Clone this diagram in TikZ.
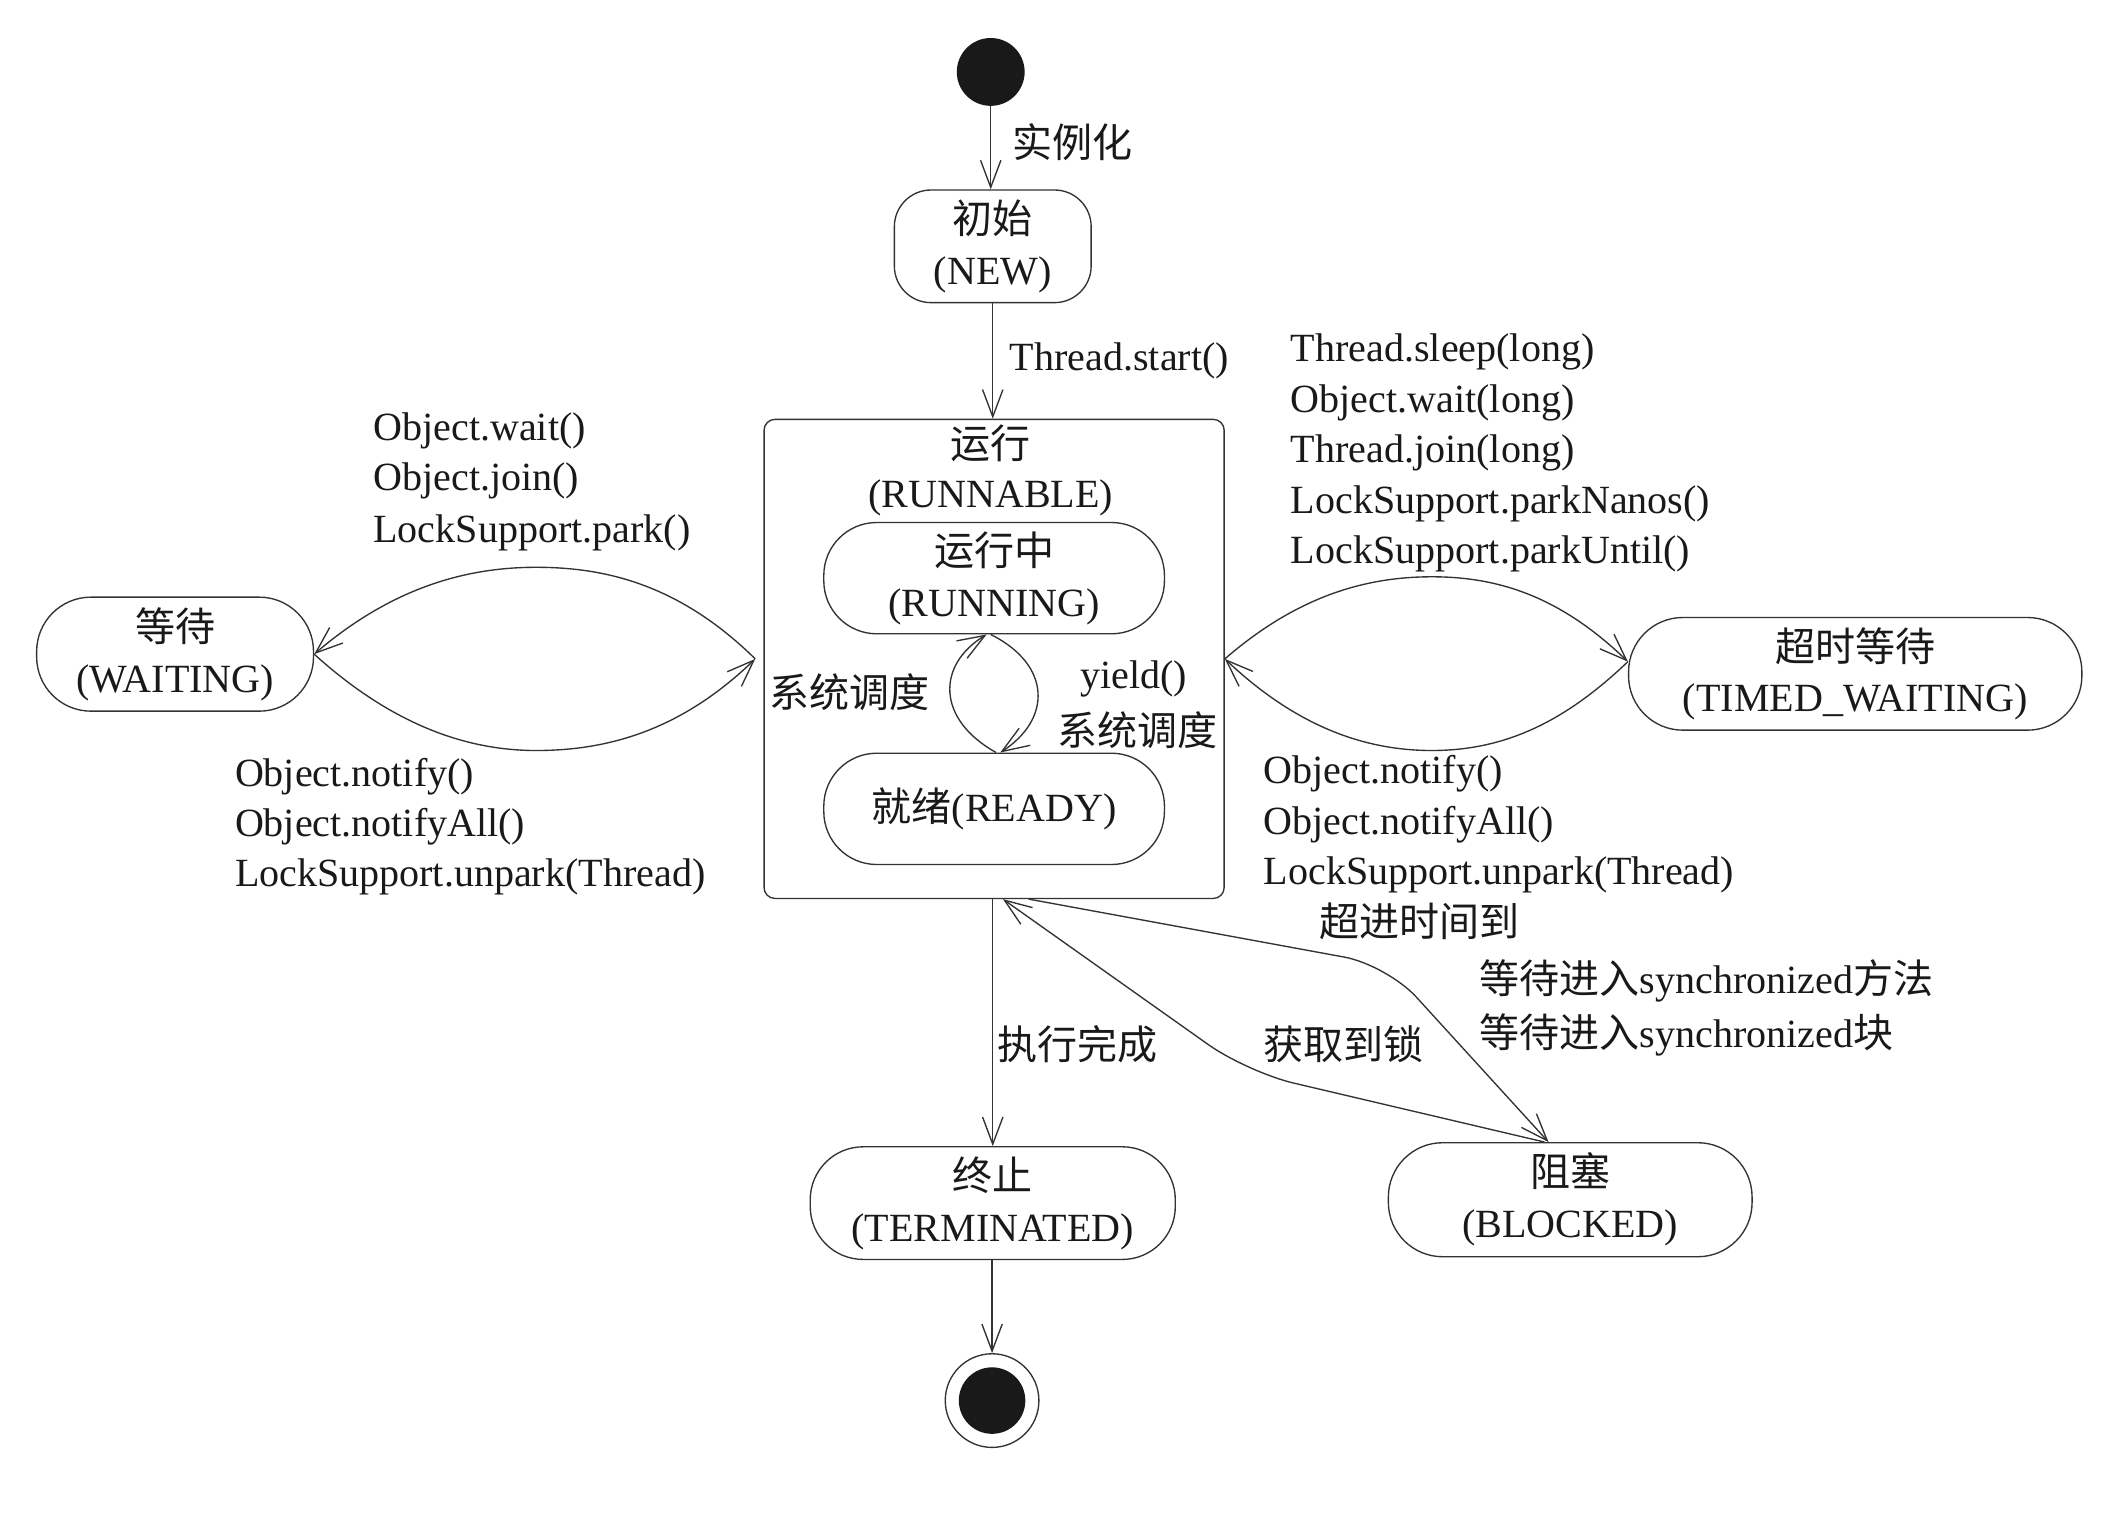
\documentclass[tikz,border=0pt]{standalone}
\usepackage{fontspec}
\setmainfont{Liberation Serif}
\newfontfamily\cjk{Noto Sans CJK SC}
\usetikzlibrary{arrows.meta}
\begin{document}
\begin{tikzpicture}[x=1pt,y=-1pt,
  every node/.style={font=\fontsize{29.5}{37.5}\selectfont, text=black!90},
  ln/.style={line width=1pt, draw=black!80},
  arr/.style={ln, -{Straight Barb[length=20pt,width=15pt,line width=1pt]}},
  st/.style={draw=black!80, line width=1pt, rounded corners=39pt, inner sep=0pt, align=center},
  lbl/.style={inner sep=0pt, anchor=base west},
  lblc/.style={inner sep=0pt, anchor=base},
]
\useasboundingbox[fill=white] (0,0) rectangle (1568,1116);

% states
\node[circle, fill=black!90, minimum size=50pt, inner sep=0pt] (start) at (730,53) {};
\node[st, rounded corners=27pt, minimum width=145pt, minimum height=83pt] (new) at (731.5,181.5) {{\cjk 初始}\\(NEW)};
\node[draw=black!80, line width=1pt, rounded corners=8pt, minimum width=339pt, minimum height=353pt, inner sep=0pt] (runnable) at (732.5,485.5) {};
\node[lblc] (rt1) at (730,337.5) {\cjk 运行};
\node[lblc] (rt2) at (730,374) {(RUNNABLE)};
\node[st, minimum width=251pt, minimum height=82pt] (running) at (732.5,426) {{\cjk 运行中}\\(RUNNING)};
\node[st, minimum width=251pt, minimum height=82pt] (ready) at (732.5,596) {{\cjk 就绪}(READY)};
\node[st, rounded corners=40pt, minimum width=204pt, minimum height=84pt] (waiting) at (129,482) {{\cjk 等待}\\(WAITING)};
\node[st, rounded corners=40pt, minimum width=334pt, minimum height=83pt] (timed) at (1367,496.5) {{\cjk 超时等待}\\(TIMED\_WAITING)};
\node[st, minimum width=269pt, minimum height=83pt] (term) at (731.5,886.5) {{\cjk 终止}\\(TERMINATED)};
\node[st, rounded corners=40pt, minimum width=268pt, minimum height=84pt] (blocked) at (1157,884) {{\cjk 阻塞}\\(BLOCKED)};
\node[circle, draw=black!80, line width=1pt, minimum size=69pt, inner sep=0pt] (final) at (731,1032) {};
\node[circle, fill=black!90, minimum size=49pt, inner sep=0pt] (finalin) at (final.center) {};

% straight transitions
\draw[arr] (start) -- (start |- new.north);
\draw[arr] (new.south) -- (new.south |- runnable.north);
\draw[arr] (term.north |- runnable.south) -- (term.north);
\draw[arr] (final.north |- term.south) -- (final.north);

% waiting lens
\coordinate (wR) at ([xshift=-6pt]runnable.west);
\coordinate (wTop) at (395,418);
\coordinate (wBot) at (395,553);
\draw[arr] (wR) .. controls (500,430) and (445,418) .. (wTop) .. controls (345,418) and (290,432) .. (waiting.east);
\draw[arr] (waiting.east) .. controls (290,535) and (345,553) .. (wBot) .. controls (445,553) and (500,540) .. (wR);

% timed waiting lens
\coordinate (tR) at ([yshift=9pt]timed.west);
\coordinate (tTop) at (1055,425);
\coordinate (tBot) at (1055,553);
\draw[arr] (runnable.east) .. controls (955,440) and (1005,425) .. (tTop) .. controls (1105,425) and (1150,440) .. (tR);
\draw[arr] (tR) .. controls (1150,535) and (1105,553) .. (tBot) .. controls (1005,553) and (955,535) .. (runnable.east);

% running / ready loop
\draw[arr] ([xshift=1.5pt]ready.north) .. controls (690,530) and (690,490) .. ([xshift=-5.5pt]running.south);
\draw[arr] ([xshift=-2.5pt]running.south) .. controls (775,490) and (775,530) .. ([xshift=4.5pt]ready.north);

% blocked
\draw[arr, rounded corners=32pt] ([xshift=25.5pt]runnable.south) -- (1022,711) -- ([xshift=-16pt]blocked.north);
\draw[arr, rounded corners=35pt] ([xshift=-19pt]blocked.north) -- (919,790) -- ([xshift=6.5pt]runnable.south);

% labels
\node[lbl] (l1) at (746,116) {\cjk 实例化};
\node[lbl] (l2) at (744,273) {Thread.start()};
\node[lbl] (wa1) at (275,324.5) {Object.wait()};
\node[lbl] (wa2) at (275,361.5) {Object.join()};
\node[lbl] (wa3) at (275,399.5) {LockSupport.park()};
\node[lbl] (wn1) at (173,579.5) {Object.notify()};
\node[lbl] (wn2) at (173,616.5) {Object.notifyAll()};
\node[lbl] (wn3) at (173,653.5) {LockSupport.unpark(Thread)};
\node[lbl] (ta1) at (951,266) {Thread.sleep(long)};
\node[lbl] (ta2) at (951,304) {Object.wait(long)};
\node[lbl] (ta3) at (951,341) {Thread.join(long)};
\node[lbl] (ta4) at (951,378) {LockSupport.parkNanos()};
\node[lbl] (ta5) at (951,415) {LockSupport.parkUntil()};
\node[lbl] (tn1) at (931,577) {Object.notify()};
\node[lbl] (tn2) at (931,615) {Object.notifyAll()};
\node[lbl] (tn3) at (931,652) {LockSupport.unpark(Thread)};
\node[lbl] (s1) at (567,521) {\cjk 系统调度};
\node[lbl] (s2) at (796,507) {yield()};
\node[lbl] (s3) at (779,549) {\cjk 系统调度};
\node[lbl] (b1) at (972,690) {\cjk 超进时间到};
\node[lbl] (b2) at (1090,732) {{\cjk 等待进入}synchronized{\cjk 方法}};
\node[lbl] (b3) at (1090,772) {{\cjk 等待进入}synchronized{\cjk 块}};
\node[lbl] (b4) at (931,781) {\cjk 获取到锁};
\node[lbl] (b5) at (735,781) {\cjk 执行完成};
\end{tikzpicture}
\end{document}
